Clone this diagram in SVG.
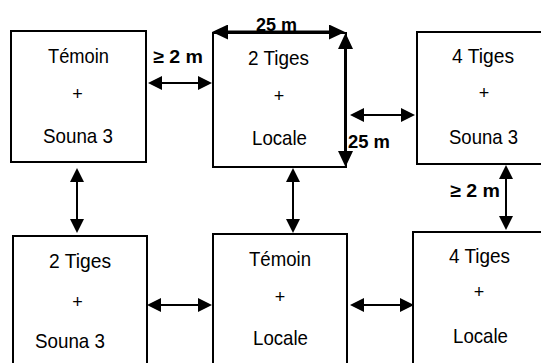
<svg xmlns="http://www.w3.org/2000/svg" width="541" height="363" viewBox="0 0 541 363">
<style>
.box{fill:#fff;stroke:#000;stroke-width:2}
.t{font-family:"Liberation Sans",Arial,sans-serif;font-size:21px;text-anchor:middle;fill:#000}
.p{font-family:"Liberation Sans",Arial,sans-serif;font-size:18px;text-anchor:middle;fill:#000}
.lbl{font-family:"Liberation Sans",Arial,sans-serif;font-size:18.5px;font-weight:bold;fill:#000}
.thin{fill:none;stroke:#000;stroke-width:2;marker-start:url(#ah);marker-end:url(#ah)}
.thick{fill:none;stroke:#000;stroke-width:3;marker-start:url(#ahT);marker-end:url(#ahT)}
</style>
<defs>
<marker id="ah" markerUnits="userSpaceOnUse" markerWidth="14" markerHeight="14" refX="4" refY="7" orient="auto-start-reverse"><path d="M0,0 L14,7 L0,14 z" fill="#000"/></marker>
<marker id="ahT" markerUnits="userSpaceOnUse" markerWidth="16" markerHeight="15" refX="6" refY="7.5" orient="auto-start-reverse"><path d="M0,0 L16,7.5 L0,15 z" fill="#000"/></marker>
</defs>
<rect width="541" height="363" fill="#fff"/>
<g id="n1">
<rect class="box" x="11" y="31" width="135" height="131"/>
<text class="t" x="78.5" y="63" textLength="61" lengthAdjust="spacingAndGlyphs">Témoin</text>
<text class="p" x="77.5" y="100">+</text>
<text class="t" x="78" y="143" textLength="70" lengthAdjust="spacingAndGlyphs">Souna 3</text>
</g>
<g id="n2">
<rect class="box" x="213" y="33" width="133" height="134"/>
<text class="t" x="278.5" y="65" textLength="61" lengthAdjust="spacingAndGlyphs">2 Tiges</text>
<text class="p" x="279" y="102">+</text>
<text class="t" x="279.5" y="145" textLength="55" lengthAdjust="spacingAndGlyphs">Locale</text>
</g>
<g id="n3">
<rect class="box" x="417" y="32" width="140" height="132"/>
<text class="t" x="483" y="63" textLength="62" lengthAdjust="spacingAndGlyphs">4 Tiges</text>
<text class="p" x="484" y="99">+</text>
<text class="t" x="483.5" y="144" textLength="69" lengthAdjust="spacingAndGlyphs">Souna 3</text>
</g>
<g id="n4">
<rect class="box" x="13" y="236" width="134" height="140"/>
<text class="t" x="80" y="268" textLength="62" lengthAdjust="spacingAndGlyphs">2 Tiges</text>
<text class="p" x="77.5" y="308">+</text>
<text class="t" x="70" y="348" textLength="70" lengthAdjust="spacingAndGlyphs">Souna 3</text>
</g>
<g id="n5">
<rect class="box" x="213" y="234" width="134" height="140"/>
<text class="t" x="280" y="266" textLength="62" lengthAdjust="spacingAndGlyphs">Témoin</text>
<text class="p" x="280" y="303">+</text>
<text class="t" x="280.5" y="345" textLength="55" lengthAdjust="spacingAndGlyphs">Locale</text>
</g>
<g id="n6">
<rect class="box" x="413" y="232" width="140" height="140"/>
<text class="t" x="479.5" y="263" textLength="61" lengthAdjust="spacingAndGlyphs">4 Tiges</text>
<text class="p" x="479" y="298">+</text>
<text class="t" x="480.5" y="343" textLength="55" lengthAdjust="spacingAndGlyphs">Locale</text>
</g>
<g id="connectors">
<path class="thick" d="M222,32 H335"/>
<path class="thick" d="M345.5,43 V157"/>
<path class="thin" d="M158,83 H202"/>
<path class="thin" d="M360,115 H405"/>
<path class="thin" d="M77,178 V223"/>
<path class="thin" d="M293,178 V223"/>
<path class="thin" d="M506,175 V220"/>
<path class="thin" d="M157,305 H202"/>
<path class="thin" d="M360,305 H404"/>
</g>
<g id="labels">
<text class="lbl" x="153" y="62.5" textLength="50" lengthAdjust="spacingAndGlyphs">≥ 2 m</text>
<text class="lbl" x="256" y="31" textLength="41" lengthAdjust="spacingAndGlyphs">25 m</text>
<text class="lbl" x="348" y="148" textLength="42" lengthAdjust="spacingAndGlyphs">25 m</text>
<text class="lbl" x="450" y="197" textLength="50" lengthAdjust="spacingAndGlyphs">≥ 2 m</text>
</g>
</svg>
